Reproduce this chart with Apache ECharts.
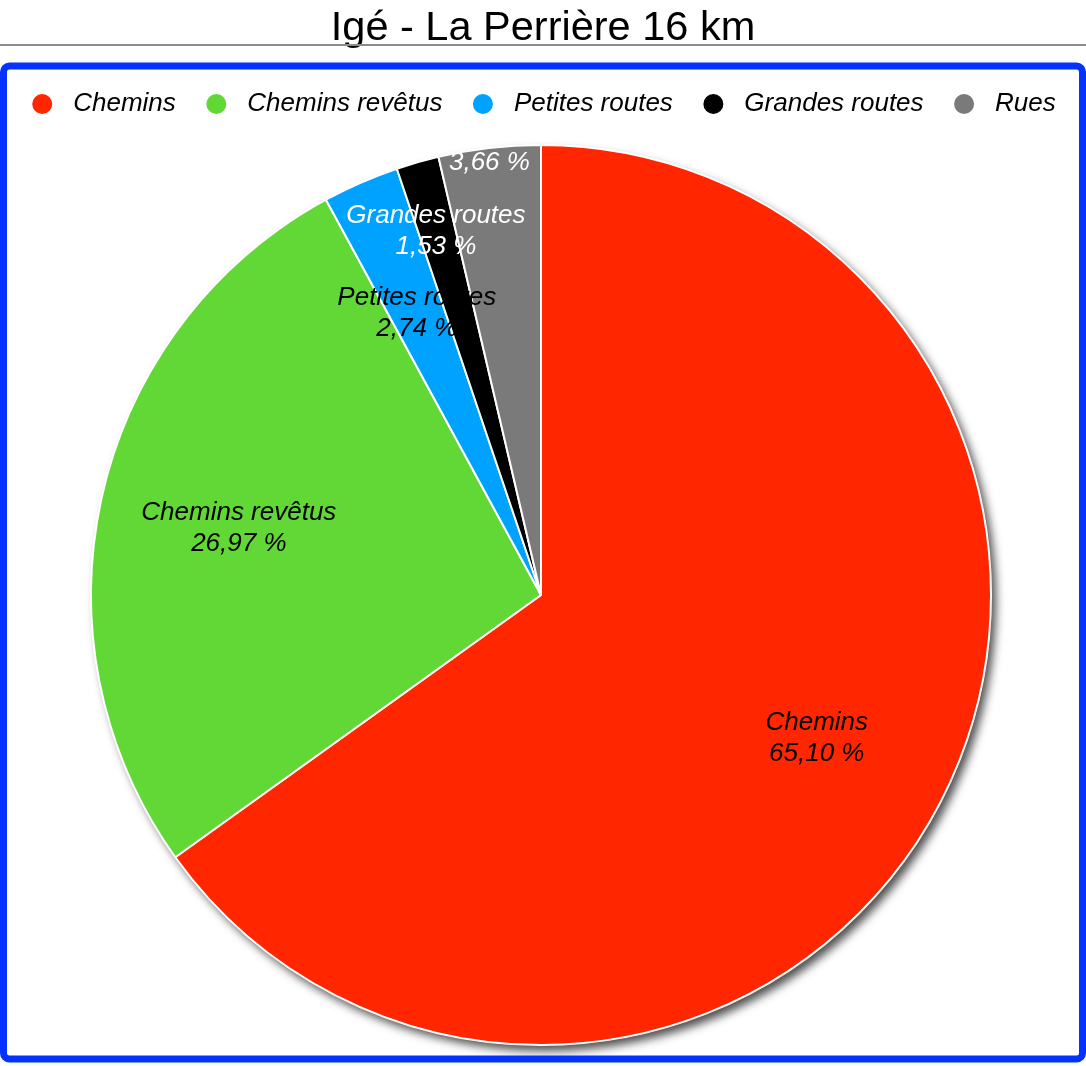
<!DOCTYPE html>
<html>
<head>
<meta charset="utf-8">
<script src="https://cdn.jsdelivr.net/npm/echarts@6/dist/echarts.min.js"></script>
<style>
html,body{margin:0;padding:0;background:#fff;}
#chart{width:1086px;height:1066px;}
</style>
</head>
<body>
<div id="chart"></div>
<script>
const titleText = 'Igé - La Perrière 16 km';
const categories = ['Chemins', 'Chemins revêtus', 'Petites routes', 'Grandes routes', 'Rues'];
const percentages = [65.10, 26.97, 2.74, 1.53, 3.66];
const sliceColors = ['#FF2600', '#61D836', '#00A2FF', '#000000', '#7A7A7A'];
const labelColors = ['#000000', '#000000', '#000000', '#FFFFFF', '#FFFFFF'];
const labelOffsets = [[0, 2], [0, 3], [0, 2], [-20, -66], [-16, -140]];

const FONT = '"Liberation Sans", Arial, Helvetica, sans-serif';
const CENTER = [541, 595];
const R = 450;

function fmt(v) { return v.toFixed(2).replace('.', ',') + ' %'; }

const mainData = categories.map((c, i) => ({
  name: c, value: percentages[i], itemStyle: { color: sliceColors[i] }
}));
const labelData = categories.map((c, i) => ({
  name: c, value: percentages[i],
  label: { color: labelColors[i], offset: labelOffsets[i] }
}));

const chart = echarts.init(document.getElementById('chart'), null, { renderer: 'canvas' });
chart.setOption({
  backgroundColor: '#fff',
  animation: false,
  title: {
    text: titleText, left: 'center', top: 3,
    textStyle: { fontFamily: FONT, fontSize: 41.5, fontWeight: 'normal', color: '#000' }
  },
  legend: {
    data: categories, left: 'center', top: 86,
    icon: 'circle', itemWidth: 22, itemHeight: 22, itemGap: 28.5,
    selectedMode: false,
    textStyle: { fontFamily: FONT, fontSize: 26, fontStyle: 'italic', color: '#000', padding: [0, 0, 0, 15] }
  },
  graphic: [
    { type: 'line', shape: { x1: 0, y1: 45, x2: 1086, y2: 45 }, style: { stroke: '#8c8c8c', lineWidth: 2 }, z: 10 },
    { type: 'rect', shape: { x: 3.5, y: 66, width: 1079, height: 993, r: 6 }, style: { fill: null, stroke: '#0433FF', lineWidth: 7 }, z: 10 }
  ],
  series: [
    {
      type: 'pie', name: 'shadow', center: CENTER, radius: R, silent: true,
      legendHoverLink: false, z: 1,
      label: { show: false }, labelLine: { show: false },
      itemStyle: { color: '#fff', shadowBlur: 10, shadowColor: 'rgba(0,0,0,0.7)', shadowOffsetX: 5, shadowOffsetY: 6 },
      data: [{ name: '_bg', value: 1 }]
    },
    {
      type: 'pie', name: 'main', center: CENTER, radius: R, startAngle: 90, clockwise: true,
      z: 2, silent: true,
      label: { show: false }, labelLine: { show: false },
      itemStyle: { borderColor: '#fff', borderWidth: 2 },
      emphasis: { disabled: true },
      data: mainData
    },
    {
      type: 'pie', name: 'labels', center: CENTER, radius: 614, startAngle: 90, clockwise: true,
      z: 3, silent: true, legendHoverLink: false,
      itemStyle: { color: 'rgba(0,0,0,0)', borderWidth: 0 },
      emphasis: { disabled: true },
      labelLine: { show: false },
      label: {
        show: true, position: 'inside',
        fontFamily: FONT, fontSize: 26, fontStyle: 'italic', lineHeight: 31,
        formatter: p => p.name + '\n' + fmt(p.value)
      },
      data: labelData
    }
  ]
});
</script>
</body>
</html>
